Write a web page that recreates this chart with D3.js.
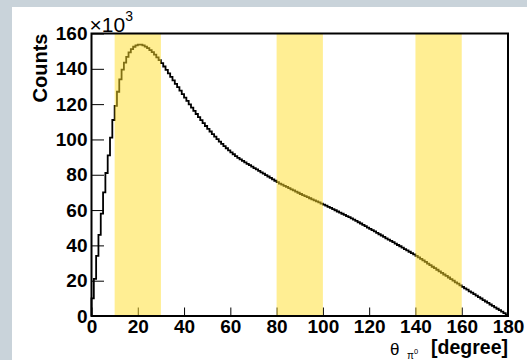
<!DOCTYPE html>
<html>
<head>
<meta charset="utf-8">
<script src="https://cdn.jsdelivr.net/npm/d3@7"></script>
<style>
  html, body { margin: 0; padding: 0; background: #c9d3da; }
  svg { display: block; }
  .tick text { font-family: "Liberation Sans", Arial, sans-serif; font-weight: bold; font-size: 19px; fill: #000; }
</style>
</head>
<body>
<svg id="chart" width="527" height="360"></svg>
<script>
// pi0 polar angle, counts per 1-degree bin (in units of 10^3)
const counts = [
  10, 21, 34, 46, 58, 70, 81, 91, 101, 111,
  119, 127, 134, 139.5, 143.5, 146.8, 149.3, 151.2, 152.5, 153.3,
  153.7, 153.7, 153.3, 152.6, 151.7, 150.6, 149.4, 148.0, 146.5, 144.9,
  143.2, 141.3, 139.4, 137.4, 135.4, 133.5, 131.5, 129.6, 127.6, 125.7,
  123.7, 121.8, 119.9, 118.0, 116.2, 114.4, 112.6, 110.9, 109.2, 107.6,
  106.0, 104.5, 103.0, 101.6, 100.2, 98.8, 97.5, 96.2, 95.0, 93.8,
  92.7, 91.6, 90.6, 89.6, 88.7, 87.9, 87.0, 86.2, 85.4, 84.6,
  83.8, 83.0, 82.2, 81.4, 80.6, 79.8, 79.0, 78.2, 77.4, 76.6,
  75.8, 75.0, 74.4, 73.7, 73.1, 72.4, 71.7, 71.1, 70.4, 69.8,
  69.1, 68.5, 67.9, 67.3, 66.7, 66.1, 65.5, 64.9, 64.3, 63.7,
  63.1, 62.5, 61.8, 61.2, 60.5, 59.9, 59.2, 58.6, 57.9, 57.3,
  56.6, 56.0, 55.3, 54.6, 53.9, 53.1, 52.4, 51.6, 50.9, 50.1,
  49.4, 48.6, 47.9, 47.1, 46.3, 45.6, 44.8, 44.0, 43.3, 42.5,
  41.8, 41.0, 40.2, 39.5, 38.7, 37.9, 37.2, 36.4, 35.6, 34.9,
  34.1, 33.2, 32.3, 31.5, 30.6, 29.7, 28.8, 27.9, 27.1, 26.2,
  25.3, 24.4, 23.5, 22.7, 21.8, 20.9, 20.0, 19.1, 18.3, 17.4,
  16.5, 15.7, 14.9, 14.0, 13.2, 12.4, 11.5, 10.7, 9.9, 9.0,
  8.2, 7.4, 6.5, 5.7, 4.9, 4.1, 3.3, 2.5, 1.6, 0.8
];

// highlighted angular ranges [from, to] in degrees
const bands = [[10, 30], [80, 100], [140, 160]];

const xTicks = [0, 20, 40, 60, 80, 100, 120, 140, 160, 180];
const yTicks = [0, 20, 40, 60, 80, 100, 120, 140, 160];

const svg = d3.select("#chart");
const W = 527, H = 360;
const m = { left: 91.5, right: 19, top: 33.5, bottom: 44 };
const pw = W - m.left - m.right, ph = H - m.top - m.bottom;

// white pad area (grey canvas border shows on left/top)
svg.append("rect").attr("x", 12).attr("y", 7).attr("width", W - 12).attr("height", H - 7).attr("fill", "#fff");

const x = d3.scaleLinear().domain([0, 180]).range([m.left, m.left + pw]);
const y = d3.scaleLinear().domain([0, 160]).range([m.top + ph, m.top]);

// histogram outline
const pts = [[0, 0]].concat(counts.map((v, i) => [i, v])).concat([[180, counts[counts.length - 1]], [180, 0]]);
const line = d3.line().x(d => x(d[0])).y(d => y(d[1])).curve(d3.curveStepAfter);
svg.append("path").datum(pts)
  .attr("d", line)
  .attr("fill", "none")
  .attr("stroke", "#000")
  .attr("stroke-width", 1.8);

// axes (ticks point inward)
const gx = svg.append("g").attr("transform", `translate(0,${m.top + ph})`);
gx.call(d3.axisBottom(x).tickValues(d3.range(0, 181, 5)).tickSize(-4).tickFormat(""));
gx.call(d3.axisBottom(x).tickValues(xTicks).tickSize(-8.5).tickPadding(4).tickFormat(d3.format("d")));

const gy = svg.append("g").attr("transform", `translate(${m.left},0)`);
gy.call(d3.axisLeft(y).tickValues(d3.range(0, 161, 5)).tickSize(-6.3).tickFormat(""));
gy.call(d3.axisLeft(y).tickValues(yTicks).tickSize(-12.5).tickPadding(4).tickFormat(d3.format("d")));

svg.selectAll(".domain").remove();
svg.selectAll(".tick line").attr("stroke", "#000").attr("stroke-width", 1);

// shaded ranges, semi-transparent over the histogram
svg.append("g").selectAll("rect").data(bands).join("rect")
  .attr("x", d => x(d[0]))
  .attr("width", d => x(d[1]) - x(d[0]))
  .attr("y", m.top)
  .attr("height", ph)
  .attr("fill", "rgb(255,222,40)")
  .attr("fill-opacity", 0.5);

// frame
svg.append("rect")
  .attr("x", m.left).attr("y", m.top).attr("width", pw).attr("height", ph)
  .attr("fill", "none").attr("stroke", "#000").attr("stroke-width", 2);

// titles
const sans = "Liberation Sans, Arial, sans-serif";
svg.append("text")
  .attr("transform", `translate(47,${m.top}) rotate(-90)`)
  .attr("text-anchor", "end")
  .attr("font-family", sans).attr("font-weight", "bold").attr("font-size", 20)
  .text("Counts");

const expo = svg.append("text").attr("x", 89.5).attr("y", 32)
  .attr("font-family", sans).attr("font-size", 21);
expo.append("tspan").text("×10");
expo.append("tspan").attr("dy", -11).attr("font-size", 14).text("3");

const xt = svg.append("text").attr("y", 355).attr("font-family", sans);
xt.append("tspan").attr("x", 390).attr("font-size", 17).text("θ");
xt.append("tspan").attr("x", 407).attr("dy", 3.5).attr("font-size", 10).text("π");
xt.append("tspan").attr("x", 414).attr("dy", -5).attr("font-size", 7.5).text("0");
svg.append("text").attr("x", x(180)).attr("y", 354)
  .attr("text-anchor", "end")
  .attr("font-family", sans).attr("font-weight", "bold").attr("font-size", 19.5)
  .text("[degree]");
</script>
</body>
</html>
